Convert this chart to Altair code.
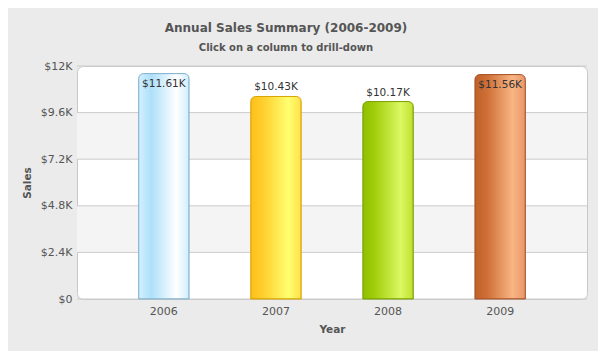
import altair as alt
import pandas as pd

# ---- data ----
years = ["2006", "2007", "2008", "2009"]
sales = [11610, 10430, 10170, 11560]
value_labels = ["$11.61K", "$10.43K", "$10.17K", "$11.56K"]
y_ticks = [0, 2400, 4800, 7200, 9600, 12000]

# ---- styles ----
bar_styles = {
    "2006": (["#d4f0ff", "#aee0fa", "#ffffff", "#cfeeff"], "#86b3cf"),
    "2007": (["#ffbf1a", "#ffcf2e", "#ffff70", "#ffe14a"], "#d9a400"),
    "2008": (["#8fbf00", "#a3cf0c", "#dcf864", "#bfe02c"], "#7aa300"),
    "2009": (["#c0602a", "#cf7038", "#f9b584", "#e8966a"], "#a9552a"),
}
FONT = "DejaVu Sans"

df = pd.DataFrame({"year": years, "sales": sales, "label": value_labels})
grid_df = pd.DataFrame({"tick": y_ticks})
band_df = pd.DataFrame({"lo": y_ticks[1:-1:2], "hi": y_ticks[2::2]})

x_scale = alt.Scale(domain=years, paddingInner=0.55, paddingOuter=0.55)
y_scale = alt.Scale(domain=[0, 12000], nice=False)

x_enc = alt.X("year:N", scale=x_scale, sort=years,
              axis=alt.Axis(title="Year", labelAngle=0, domain=False, ticks=False,
                            labelPadding=6, titlePadding=8, labelFontSize=11,
                            labelColor="#555555", titleFontSize=10.5,
                            titleColor="#555555", titleFontWeight="bold",
                            labelFont=FONT, titleFont=FONT))
y_enc = alt.Y("sales:Q", scale=y_scale,
              axis=alt.Axis(title="Sales", values=y_ticks, grid=False, domain=False,
                            ticks=False, labelPadding=5, titlePadding=8,
                            labelFontSize=11, labelColor="#555555",
                            labelExpr="datum.value == 0 ? '$0' : '$' + (datum.value/1000) + 'K'",
                            titleFontSize=10.5, titleColor="#555555",
                            titleFontWeight="bold", labelFont=FONT, titleFont=FONT))

bands = alt.Chart(band_df).mark_rect(fill="#f4f4f4").encode(
    y=alt.Y("lo:Q", scale=y_scale), y2="hi:Q")

grid = alt.Chart(grid_df).mark_rule(color="#cccccc", strokeWidth=1).encode(
    y=alt.Y("tick:Q", scale=y_scale))

base = alt.Chart(df)

bar_layers = []
for yr in years:
    stops_c, stroke = bar_styles[yr]
    grad = alt.Gradient(
        gradient="linear",
        stops=[alt.GradientStop(color=stops_c[0], offset=0),
               alt.GradientStop(color=stops_c[1], offset=0.25),
               alt.GradientStop(color=stops_c[2], offset=0.75),
               alt.GradientStop(color=stops_c[3], offset=1)],
        x1=0, x2=1, y1=0, y2=0)
    bar_layers.append(
        base.transform_filter(alt.datum.year == yr).mark_bar(
            fill=grad, stroke=stroke, strokeWidth=1,
            cornerRadiusTopLeft=5, cornerRadiusTopRight=5
        ).encode(x=x_enc, y=y_enc)
    )

text_above = base.transform_filter(alt.datum.sales < 11000).mark_text(
    baseline="bottom", dy=-4, fontSize=10.5, font=FONT, color="#333333"
).encode(x=alt.X("year:N", scale=x_scale, sort=years), y=alt.Y("sales:Q", scale=y_scale),
         text="label:N")

text_inside = base.transform_filter(alt.datum.sales >= 11000).mark_text(
    baseline="top", dy=5, fontSize=10.5, font=FONT, color="#333333"
).encode(x=alt.X("year:N", scale=x_scale, sort=years), y=alt.Y("sales:Q", scale=y_scale),
         text="label:N")

chart = alt.layer(bands, grid, *bar_layers, text_above, text_inside).properties(
    width=510, height=233,
    autosize=alt.AutoSizeParams(type="none"),
    padding={"left": 69, "top": 58, "right": 11, "bottom": 52},
    background="#ebebeb",
    title=alt.TitleParams(
        text="Annual Sales Summary (2006-2009)",
        subtitle="Click on a column to drill-down",
        anchor="middle", dx=-46, offset=6,
        font=FONT, fontSize=12, fontWeight="bold", color="#555555",
        subtitleFont=FONT, subtitleFontSize=10, subtitleFontWeight="bold",
        subtitleColor="#555555", subtitlePadding=8),
).configure_view(fill="#ffffff", stroke="#c8c8c8", strokeWidth=1, cornerRadius=6)

chart.save("out.html", embed_options={"renderer": "svg", "actions": False})
